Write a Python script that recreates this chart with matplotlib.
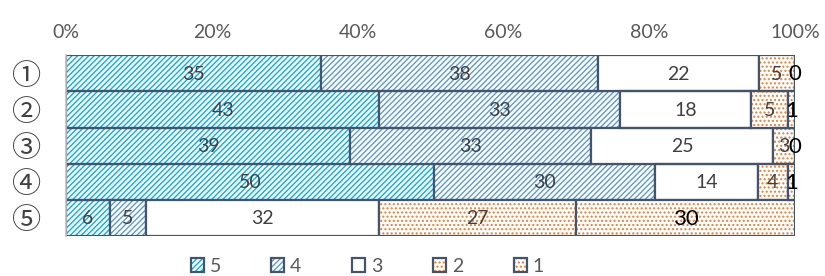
import numpy as np
import matplotlib
matplotlib.use("Agg")
import matplotlib.pyplot as plt
from matplotlib.patches import Patch

# rows (top to bottom) and answer counts per score
rows = ["①", "②", "③", "④", "⑤"]
score5 = [35, 43, 39, 50, 6]
score4 = [38, 33, 33, 30, 5]
score3 = [22, 18, 25, 14, 32]
score2 = [5, 5, 3, 4, 27]
score1 = [0, 1, 0, 1, 30]
series_names = ["5", "4", "3", "2", "1"]
xticks = [0, 20, 40, 60, 80, 100]

plt.rcParams["font.family"] = ["Lato", "DejaVu Sans"]
plt.rcParams["hatch.linewidth"] = 1.0


def main():
    data = np.array([score5, score4, score3, score2, score1], dtype=float)
    pct = data / data.sum(axis=0) * 100

    hatch_colors = ["#00B0F0", "#5B9BD5", "#FFFFFF", "#ED7D31", "#ED7D31"]
    hatches = ["//////", "//////", None, "....", "...."]
    edge = "#44546A"

    fig = plt.figure(figsize=(8.25, 2.76), dpi=100)
    ax = fig.add_axes([0.08, 0.145, 0.8836, 0.655])

    y = np.arange(len(rows))
    left = np.zeros(len(rows))
    for i in range(5):
        # hatch layer, then the dark outline on top
        ax.barh(y, pct[i], left=left, height=1.0, color="white",
                edgecolor=hatch_colors[i], hatch=hatches[i], linewidth=0)
        ax.barh(y, pct[i], left=left, height=1.0, fill=False,
                edgecolor=edge, linewidth=1.6)
        for j in range(len(rows)):
            xc = left[j] + pct[i][j] / 2
            if i == 4:
                ax.text(xc, y[j] + 0.03, f"{int(data[i][j])}", ha="center",
                        va="center", fontsize=16, color="black")
            else:
                ax.text(xc, y[j] + 0.03, f"{int(data[i][j])}", ha="center",
                        va="center", fontsize=14, color="#404040")
        left += pct[i]

    ax.set_xlim(0, 100)
    ax.set_ylim(len(rows) - 0.5, -0.5)
    ax.xaxis.tick_top()
    ax.set_xticks(xticks)
    ax.set_xticklabels([f"{t}%" for t in xticks], fontsize=14, color="#595959")
    ax.tick_params(axis="x", length=0, pad=10)
    ax.set_yticks(y)
    ax.set_yticklabels(rows, fontsize=21, color="#404040",
                       family=["Noto Sans CJK JP", "DejaVu Sans"])
    ax.tick_params(axis="y", length=0, pad=18)
    for s in ["top", "right", "bottom"]:
        ax.spines[s].set_visible(False)
    ax.spines["left"].set_color("#BFBFBF")
    ax.spines["left"].set_linewidth(1.2)

    handles = [Patch(facecolor="white", edgecolor=hatch_colors[i],
                     hatch=hatches[i], linewidth=0) for i in range(5)]
    outline = [Patch(fill=False, edgecolor=edge, linewidth=1.6)
               for i in range(5)]
    fig.legend([(h, o) for h, o in zip(handles, outline)], series_names,
               loc="center", bbox_to_anchor=(0.445, 0.035), ncol=5,
               frameon=False, fontsize=14, labelcolor="#595959",
               handlelength=0.67, handleheight=0.67, handletextpad=0.3,
               columnspacing=2.6)

    fig.savefig("out.png", dpi=100)


if __name__ == "__main__":
    main()
